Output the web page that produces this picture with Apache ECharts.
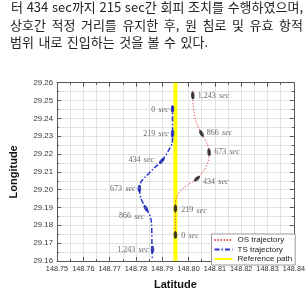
<!DOCTYPE html>
<html>
<head>
<meta charset="utf-8">
<script src="https://cdn.jsdelivr.net/npm/echarts@6/dist/echarts.min.js"></script>
<style>
	html,body{margin:0;padding:0;background:#fff;}
	#chart{width:308px;height:295px;}
</style>
</head>
<body>
<div id="chart"></div>
<script>
	// paragraph above the figure
	var textLines = [
		'터 434 sec까지 215 sec간 회피 조치를 수행하였으며,',
		'상호간 적정 거리를 유지한 후, 원 침로 및 유효 항적',
		'범위 내로 진입하는 것을 볼 수 있다.'
	];

	// OS trajectory (red dotted)
	var osLon = [148.7950, 148.7950, 148.7950, 148.7951, 148.7965, 148.7995, 148.8032, 148.8060, 148.8075, 148.8078, 148.8069, 148.8049, 148.8031, 148.8020, 148.8016, 148.8016];
	var osLat = [29.1746, 29.1820, 29.1895, 29.1940, 29.1985, 29.2026, 29.2062, 29.2113, 29.2161, 29.2210, 29.2264, 29.2315, 29.2372, 29.2442, 29.2528, 29.2561];

	// TS trajectory (blue dash-dot)
	var tsLon = [148.7939, 148.7939, 148.7939, 148.7938, 148.7922, 148.7898, 148.7867, 148.7838, 148.7819, 148.7813, 148.7819, 148.7838, 148.7852, 148.7859, 148.7861, 148.7862];
	var tsLat = [29.2469, 29.2453, 29.2314, 29.2264, 29.2215, 29.2161, 29.2118, 29.2075, 29.2043, 29.2006, 29.1951, 29.1895, 29.1859, 29.1816, 29.1665, 29.1616];

	// reference path (yellow)
	var refLon = [148.795, 148.795];
	var refLat = [29.16, 29.26];

	// time marks
	var markTimes = ['0', '219', '434', '673', '866', '1,243'];
	var osMarkLon = [148.7950, 148.7950, 148.8032, 148.8078, 148.8049, 148.8016];
	var osMarkLat = [29.1746, 29.1895, 29.2062, 29.2210, 29.2315, 29.2528];
	var tsMarkLon = [148.7939, 148.7939, 148.7898, 148.7813, 148.7838, 148.7863];
	var tsMarkLat = [29.2453, 29.2314, 29.2161, 29.2006, 29.1895, 29.1665];

	var chart = echarts.init(document.getElementById('chart'));

	function zip(a, b){
		var out = [];
		for(var i=0;i<a.length;i++){ out.push([a[i], b[i]]); }
		return out;
	}

	// label placement of each time mark (style only)
	var tsLabelPos = [
		{position:'left', offset:[0,1]},
		{position:'left', offset:[0,0]},
		{position:'left', offset:[-2,-1]},
		{position:'left', offset:[0,0]},
		{position:'left', offset:[4,8]},
		{position:'left', offset:[0,0]}
	];
	var osLabelPos = [
		{position:'right', offset:[2,1]},
		{position:'right', offset:[2,2]},
		{position:'right', offset:[0,3]},
		{position:'right', offset:[1,0]},
		{position:'right', offset:[0,-1]},
		{position:'right', offset:[1,0]}
	];

	function markData(lon, lat, pos, rot){
		var out = [];
		for(var i=0;i<lon.length;i++){
			out.push({
				value:[lon[i], lat[i]],
				symbolRotate: rot ? rot[i] : 0,
				label:{
					show:true,
					position:pos[i].position,
					offset:pos[i].offset,
					distance:2,
					formatter:'{n|' + markTimes[i] + '} {s|sec}'
				}
			});
		}
		return out;
	}

	var richLbl = {
		n:{fontFamily:'Liberation Serif', fontSize:8, color:'#444'},
		s:{fontFamily:'Liberation Serif', fontSize:8, fontStyle:'italic', color:'#444'}
	};
	var ellipse = 'path://M5,0 A5,10 0 1,1 5,20 A5,10 0 1,1 5,0 Z';

	var gridLine = {lineStyle:{color:'#e2e2e2', width:1}};

	//  *********** paragraph, justified word by word
	var paraFont = '13px "Noto Sans CJK KR"';
	var ctx = document.createElement('canvas').getContext('2d');
	ctx.font = paraFont;
	var graphics = [];
	var lineY = [8, 25.5, 43];
	var lineX = [11, 10, 10];
	var lineRight = 303;
	for(var i=0;i<textLines.length;i++){
		var words = textLines[i].split(' ');
		var widths = words.map(function(w){ return ctx.measureText(w).width; });
		var total = widths.reduce(function(a,b){ return a+b; }, 0);
		var gap = (i < textLines.length-1) ? (lineRight - lineX[i] - total) / (words.length-1) : 4.5;
		var x = lineX[i];
		for(var k=0;k<words.length;k++){
			graphics.push({
				type:'text', left:x, top:lineY[i]-7,
				style:{text:words[k], font:paraFont, fill:'#222'}
			});
			x += widths[k] + gap;
		}
	}

	var axisLineStyle = {show:true, onZero:false, lineStyle:{color:'#555'}};
	var tickIn = {show:true, inside:true, length:4, lineStyle:{color:'#555'}};
	var minorIn = {show:true, splitNumber:2, length:2, lineStyle:{color:'#555'}};
	var titleFont = {fontFamily:'Liberation Sans', fontSize:11, fontWeight:'bold', color:'#111'};

	var option = {
		animation:false,
		graphic:graphics,
		grid:{left:47.5, right:14, top:82.7, bottom:27},
		legend:{
			orient:'vertical', left:211.5, top:234,
			data:['OS trajectory', 'TS trajectory', 'Reference path'],
			itemWidth:18, itemHeight:7.5, itemGap:1.5,
			padding:[2,3,2,2],
			itemStyle:{opacity:0},
			backgroundColor:'#fff', borderColor:'#999', borderWidth:1, borderRadius:0,
			textStyle:{fontFamily:'Liberation Sans', fontSize:8, color:'#222'}
		},
		xAxis:[{
			type:'value', min:148.75, max:148.84, interval:0.01,
			name:'Latitude', nameLocation:'middle', nameGap:18,
			nameTextStyle:titleFont,
			axisLine:axisLineStyle, axisTick:tickIn, minorTick:minorIn,
			axisLabel:{margin:4, fontFamily:'Liberation Sans', fontSize:7.3, color:'#333',
				formatter:function(v){return v.toFixed(2);}},
			splitLine:Object.assign({show:true}, gridLine),
			minorSplitLine:Object.assign({show:true}, gridLine)
		},{
			type:'value', position:'top', min:148.75, max:148.84, interval:0.01,
			axisLine:axisLineStyle, axisTick:tickIn, minorTick:minorIn,
			axisLabel:{show:false}, splitLine:{show:false}
		}],
		yAxis:[{
			type:'value', min:29.16, max:29.26, interval:0.01,
			name:'Longitude', nameLocation:'middle', nameGap:38, nameRotate:90,
			nameTextStyle:titleFont,
			axisLine:axisLineStyle, axisTick:tickIn, minorTick:minorIn,
			axisLabel:{margin:4, fontFamily:'Liberation Sans', fontSize:7.8, color:'#333',
				formatter:function(v){return v.toFixed(2);}},
			splitLine:Object.assign({show:true}, gridLine),
			minorSplitLine:Object.assign({show:true}, gridLine)
		},{
			type:'value', position:'right', min:29.16, max:29.26, interval:0.01,
			axisLine:axisLineStyle, axisTick:tickIn, minorTick:minorIn,
			axisLabel:{show:false}, splitLine:{show:false}
		}],
		series:[
			{
				name:'Reference path', type:'line', symbol:'none', z:2,
				data:zip(refLon, refLat),
				lineStyle:{color:'#ffff00', width:4},
				itemStyle:{color:'#ffff00'}
			},
			{
				name:'OS trajectory', type:'line', symbol:'none', smooth:0.3, z:3,
				data:zip(osLon, osLat),
				lineStyle:{color:'#e05a5a', width:1, type:[1.5,1.5]},
				itemStyle:{color:'#e05a5a'}
			},
			{
				name:'TS trajectory', type:'line', symbol:'none', smooth:0.3, z:3,
				data:zip(tsLon, tsLat),
				lineStyle:{color:'#2a35d0', width:1.5, type:[5,2,1.5,2]},
				itemStyle:{color:'#2a35d0'}
			},
			{
				name:'os marks', type:'scatter', z:5, symbol:ellipse, symbolSize:[3.5,7.5],
				itemStyle:{color:'#111'},
				label:{rich:richLbl},
				data:markData(osMarkLon, osMarkLat, osLabelPos)
			},
			{
				name:'ts marks', type:'scatter', z:5, symbol:ellipse, symbolSize:[3.5,7.5],
				itemStyle:{color:'#1a1fb0'},
				label:{rich:richLbl},
				data:markData(tsMarkLon, tsMarkLat, tsLabelPos)
			}
		]
	};

	option && chart.setOption(option);

	// rotate marks along the path direction
	function rotations(markLon, markLat, lon, lat){
		var rot = [];
		for(var m=0;m<markLon.length;m++){
			var best = 0, bd = Infinity;
			for(var i=0;i<lon.length;i++){
				var d = Math.abs(lon[i]-markLon[m]) + Math.abs(lat[i]-markLat[m]);
				if(d < bd){ bd = d; best = i; }
			}
			var a = Math.max(0, best-1), b = Math.min(lon.length-1, best+1);
			var p1 = chart.convertToPixel({gridIndex:0}, [lon[a], lat[a]]);
			var p2 = chart.convertToPixel({gridIndex:0}, [lon[b], lat[b]]);
			var sx = p2[0]-p1[0], sy = p2[1]-p1[1];
			rot.push(-Math.atan2(sx, -sy) * 180 / Math.PI);
		}
		return rot;
	}

	chart.setOption({
		series:[{}, {}, {},
			{data:markData(osMarkLon, osMarkLat, osLabelPos, rotations(osMarkLon, osMarkLat, osLon, osLat))},
			{data:markData(tsMarkLon, tsMarkLat, tsLabelPos, rotations(tsMarkLon, tsMarkLat, tsLon, tsLat))}
		]
	});
</script>
</body>
</html>
